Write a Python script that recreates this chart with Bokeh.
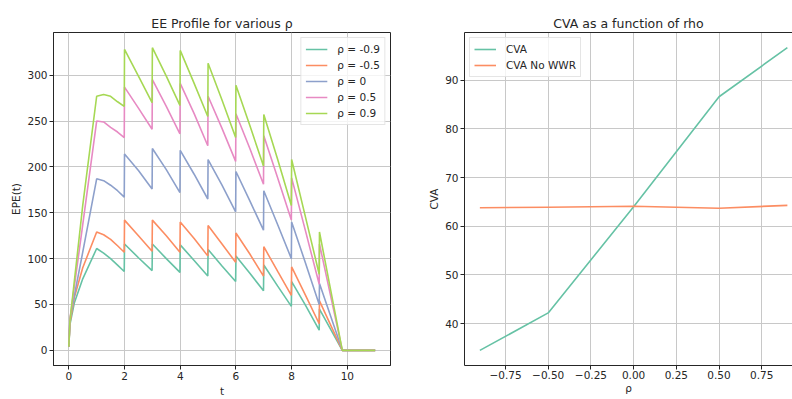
from bokeh.plotting import figure
from bokeh.layouts import row
from bokeh.models import Range1d, FixedTicker, LinearAxis
from bokeh.embed import file_html
from bokeh.resources import INLINE

# ---------------- data: EE profiles ----------------
t = [0.0, 0.04, 0.2, 0.5, 1.0, 1.25, 1.5, 1.75, 1.99, 2.0, 2.5, 2.99, 3.0, 3.5, 3.99,
     4.0, 4.5, 4.99, 5.0, 5.5, 5.99, 6.0, 6.5, 6.99, 7.0, 7.5, 7.99, 8.0, 8.5, 8.99,
     9.0, 9.82, 11.0]
epe_m09 = [4, 28, 52, 78, 111, 106, 100, 93, 86, 116, 101, 87, 116, 100, 85,
           115, 98, 81, 110, 92, 75, 103, 84, 65, 93, 70, 48, 75, 49, 22,
           45, 0, 0]
epe_m05 = [4, 30, 58, 90, 129, 126, 121, 114, 107, 142, 125, 108, 142, 125, 107,
           140, 122, 103, 136, 116, 96, 128, 105, 81, 113, 86, 60, 91, 60, 29,
           54, 0, 0]
epe_0 = [4, 34, 60, 107, 187, 185, 180, 174, 167, 214, 196, 176, 220, 197, 172,
         218, 192, 165, 208, 180, 151, 195, 163, 131, 174, 137, 100, 140, 95, 50,
         73, 0, 0]
epe_p05 = [4, 34, 70, 137, 250, 249, 243, 238, 232, 287, 264, 241, 295, 266, 236,
           291, 258, 223, 277, 242, 206, 258, 220, 181, 234, 188, 142, 188, 130, 72,
           116, 0, 0]
epe_p09 = [4, 32, 76, 158, 277, 279, 277, 271, 266, 328, 299, 270, 330, 299, 267,
           327, 291, 255, 313, 273, 232, 289, 245, 201, 257, 208, 158, 208, 145, 83,
           129, 0, 0]
series_labels = ["ρ = -0.9", "ρ = -0.5", "ρ = 0", "ρ = 0.5", "ρ = 0.9"]
series_values = [epe_m09, epe_m05, epe_0, epe_p05, epe_p09]
colors = ["#66c2a5", "#fc8d62", "#8da0cb", "#e78ac3", "#a6d854"]

left_xticks = [0, 2, 4, 6, 8, 10]
left_yticks = [0, 50, 100, 150, 200, 250, 300]

# ---------------- data: CVA vs rho ----------------
rho = [-0.9, -0.5, 0.0, 0.5, 0.9]
cva = [34.5, 42.2, 64.0, 86.6, 96.7]
cva_no_wwr = [63.8, 63.9, 64.1, 63.7, 64.3]
right_xticks = [-0.75, -0.5, -0.25, 0.0, 0.25, 0.5, 0.75]
right_xtick_labels = ["−0.75", "−0.50", "−0.25", "0.00", "0.25", "0.50", "0.75"]
right_yticks = [40, 50, 60, 70, 80, 90]

FONT = "DejaVu Sans"
INK = "#262626"


def style(p):
    p.background_fill_color = "white"
    p.border_fill_color = "white"
    p.grid.grid_line_color = "#c8c8c8"
    p.grid.grid_line_width = 1
    for ax in p.axis:
        ax.major_tick_out = 4
        ax.major_tick_in = 0
        ax.minor_tick_line_color = None
        ax.axis_line_color = INK
        ax.major_tick_line_color = INK
        ax.major_label_text_font = FONT
        ax.major_label_text_font_size = "10.5px"
        ax.major_label_text_color = INK
        ax.major_label_standoff = 2
        ax.axis_label_text_font = FONT
        ax.axis_label_text_font_size = "10.5px"
        ax.axis_label_text_font_style = "normal"
        ax.axis_label_text_color = INK
        ax.axis_label_standoff = 2
    p.title.text_font = FONT
    p.title.text_font_size = "12.5px"
    p.title.text_font_style = "normal"
    p.title.text_color = INK
    p.title.align = "center"
    p.title.standoff = 3


def style_legend(lg):
    lg.label_text_font = FONT
    lg.label_text_font_size = "10.5px"
    lg.label_text_color = INK
    lg.border_line_color = "#cccccc"
    lg.background_fill_alpha = 0.8
    lg.glyph_width = 22
    lg.glyph_height = 14
    lg.label_height = 14
    lg.label_standoff = 10
    lg.spacing = 2
    lg.padding = 4
    lg.margin = 5


# ---------------- left figure ----------------
p1 = figure(width=424, height=399, output_backend="svg", toolbar_location=None,
            x_range=Range1d(-0.55, 11.55), y_range=Range1d(-16.5, 346.5),
            title="EE Profile for various ρ",
            min_border_left=53, min_border_right=34, min_border_top=29, min_border_bottom=34)
for lab, vals, col in zip(series_labels, series_values, colors):
    p1.line(t, vals, line_color=col, line_width=1.6, legend_label=lab)
p1.xaxis.ticker = FixedTicker(ticks=left_xticks)
p1.yaxis.ticker = FixedTicker(ticks=left_yticks)
p1.xaxis.axis_label = "t"
p1.yaxis.axis_label = "EPE(t)"
p1.outline_line_color = INK
p1.outline_line_width = 1
style(p1)
p1.legend.location = "top_right"
style_legend(p1.legend[0])

# ---------------- right figure ----------------
p2 = figure(width=368, height=399, output_backend="svg", toolbar_location=None,
            x_range=Range1d(-0.99, 0.93), y_range=Range1d(31.4, 99.8),
            title="CVA as a function of rho",
            min_border_left=40, min_border_right=0, min_border_top=32, min_border_bottom=31)
p2.line(rho, cva, line_color=colors[0], line_width=1.6, legend_label="CVA")
p2.line(rho, cva_no_wwr, line_color=colors[1], line_width=1.6, legend_label="CVA No WWR")
p2.xaxis.ticker = FixedTicker(ticks=right_xticks)
p2.xaxis.major_label_overrides = dict(zip(right_xticks, right_xtick_labels))
p2.yaxis.ticker = FixedTicker(ticks=right_yticks)
p2.xaxis.axis_label = "ρ"
p2.yaxis.axis_label = "CVA"
p2.outline_line_color = None
style(p2)
p2.xaxis.axis_label_standoff = 0
p2.xaxis.major_label_standoff = 1
top_axis = LinearAxis(ticker=FixedTicker(ticks=[]), axis_line_color=INK,
                      major_tick_line_color=None, minor_tick_line_color=None,
                      major_tick_out=0, major_tick_in=0,
                      major_label_standoff=0, axis_label_standoff=0)
p2.add_layout(top_axis, "above")
p2.title.offset = 5
p2.legend.location = "top_left"
style_legend(p2.legend[0])

layout = row(p1, p2)
open("out.html", "w").write(file_html(layout, INLINE))
